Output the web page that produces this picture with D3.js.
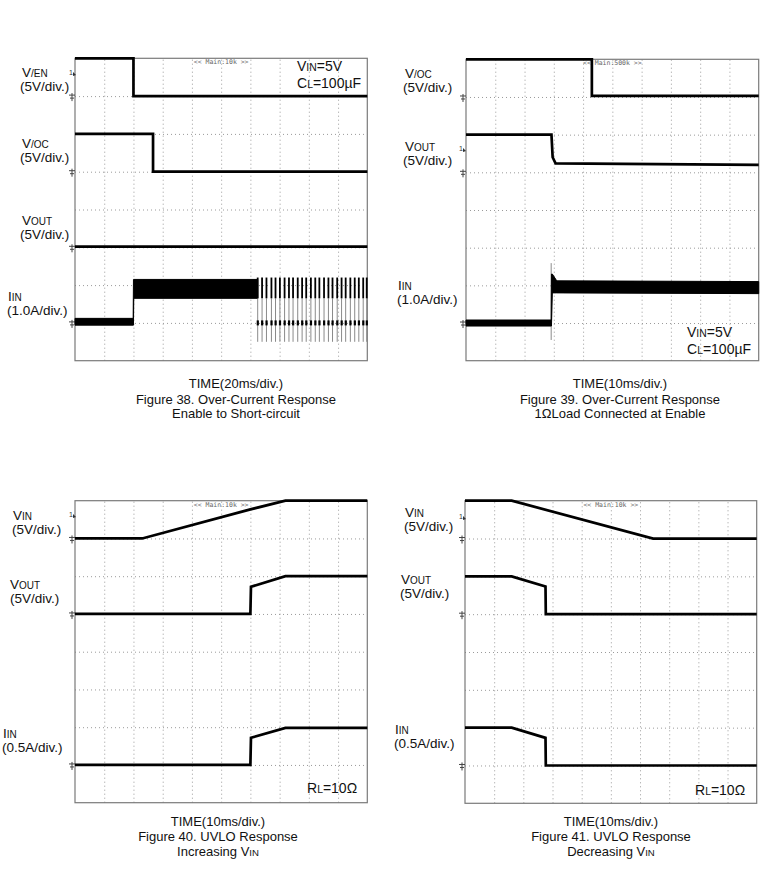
<!DOCTYPE html>
<html>
<head>
<meta charset="utf-8">
<script src="https://cdn.jsdelivr.net/npm/d3@7"></script>
<style>
  body { margin: 0; background: #fff; }
  svg { display: block; font-family: "Liberation Sans", Arial, sans-serif; }
</style>
</head>
<body>
<svg id="chart" width="768" height="891"></svg>
<script>
// all traces are [time (div), level (div from bottom)]; bands are [time, low, high]

// Figure 38
const fig38Ven = [[0, 8], [2, 8], [2, 7], [10, 7]];
const fig38Voc = [[0, 6], [2.67, 6], [2.67, 5], [10, 5]];
const fig38Vout = [[0, 3.02], [10, 3.02]];
const fig38IinBand = [[0, 0.94, 1.12], [1.99, 0.94, 1.12], [2, 0.94, 2.15], [2.01, 1.65, 2.15], [6.25, 1.65, 2.15]];
const fig38Pulses = [6.25, 6.40, 6.55, 6.72, 6.86, 7.01, 7.17, 7.32, 7.46, 7.62, 7.77, 7.91, 8.07,
                     8.22, 8.36, 8.52, 8.67, 8.81, 8.97, 9.12, 9.26, 9.42, 9.57, 9.71, 9.86, 9.98];

// Figure 39
const fig39Voc = [[0, 8], [4.3, 8], [4.3, 7.03], [10, 7.03]];
const fig39Vout = [[0, 6], [2.92, 6], [2.96, 5.4], [3.06, 5.24], [10, 5.2]];
const fig39IinBand = [[0, 0.92, 1.08], [2.91, 0.92, 1.08], [2.92, 0.92, 2.3], [2.95, 1.8, 2.3], [3.1, 1.8, 2.12], [10, 1.78, 2.1]];
const fig39IinSpike = [[2.91, 0.55], [2.91, 2.59]];

// Figure 40
const fig40Vin = [[0, 7], [2.3, 7], [6, 7.77], [7.2, 8], [10, 8]];
const fig40Vout = [[0, 5], [6, 5], [6.02, 5.72], [7.2, 6], [10, 6]];
const fig40Iin = [[0, 1], [6, 1], [6.02, 1.72], [7.2, 1.98], [10, 1.98]];

// Figure 41
const fig41Vin = [[0, 8], [1.6, 8], [6.45, 7], [10, 7]];
const fig41Vout = [[0, 6], [1.6, 6], [2.76, 5.73], [2.77, 5], [10, 5]];
const fig41Iin = [[0, 2], [1.6, 2], [2.76, 1.73], [2.77, 1], [10, 1]];

// "_" prefix marks the small-caps subscript part
const panels = [
  {
    box: [75, 58.3, 367.3, 360.7],
    zoomTag: "<< Main:10k >>",
    traces: [fig38Ven, fig38Voc, fig38Vout],
    bands: [fig38IinBand],
    spikes: [],
    pulses: fig38Pulses,
    grounds: [7, 5, 3, 1],
    triggers: [[69, 73]],
    labels: [
      { x: 22, y: 72.5, parts: ["V", "_/EN"] }, { x: 20, y: 86.5, parts: ["(5V/div.)"] },
      { x: 22, y: 143, parts: ["V", "_/OC"] }, { x: 20, y: 157, parts: ["(5V/div.)"] },
      { x: 22, y: 220, parts: ["V", "_OUT"] }, { x: 20, y: 234, parts: ["(5V/div.)"] },
      { x: 8, y: 296, parts: ["I", "_IN"] }, { x: 7, y: 310, parts: ["(1.0A/div.)"] },
      { x: 297, y: 66.5, parts: ["V", "_IN", "=5V"], size: 14 },
      { x: 297, y: 83.5, parts: ["C", "_L", "=100µF"], size: 14 }
    ],
    caption: { cx: 236, ys: [383.5, 399.5, 413], lines: [["TIME(20ms/div.)"], ["Figure 38. Over-Current Response"], ["Enable to Short-circuit"]] }
  },
  {
    box: [466, 59.3, 758.7, 360.7],
    zoomTag: "<< Main:500k >>",
    traces: [fig39Voc, fig39Vout],
    bands: [fig39IinBand],
    spikes: [fig39IinSpike],
    pulses: [],
    grounds: [7, 5, 1],
    triggers: [[459, 149]],
    labels: [
      { x: 405, y: 73, parts: ["V", "_/OC"] }, { x: 403, y: 87, parts: ["(5V/div.)"] },
      { x: 405, y: 146, parts: ["V", "_OUT"] }, { x: 403, y: 160, parts: ["(5V/div.)"] },
      { x: 398, y: 285, parts: ["I", "_IN"] }, { x: 397, y: 299, parts: ["(1.0A/div.)"] },
      { x: 687, y: 332.5, parts: ["V", "_IN", "=5V"], size: 14 },
      { x: 687, y: 349.5, parts: ["C", "_L", "=100µF"], size: 14 }
    ],
    caption: { cx: 620, ys: [383.5, 399.5, 413], lines: [["TIME(10ms/div.)"], ["Figure 39. Over-Current Response"], ["1ΩLoad Connected at Enable"]] }
  },
  {
    box: [75, 500.7, 367.3, 802.7],
    zoomTag: "<< Main:10k >>",
    traces: [fig40Vin, fig40Vout, fig40Iin],
    bands: [],
    spikes: [],
    pulses: [],
    grounds: [7, 5, 1],
    triggers: [[69, 515]],
    labels: [
      { x: 13, y: 515.5, parts: ["V", "_IN"] }, { x: 12, y: 529.5, parts: ["(5V/div.)"] },
      { x: 10, y: 584, parts: ["V", "_OUT"] }, { x: 10, y: 598, parts: ["(5V/div.)"] },
      { x: 3, y: 733, parts: ["I", "_IN"] }, { x: 2, y: 747, parts: ["(0.5A/div.)"] },
      { x: 307, y: 788.5, parts: ["R", "_L", "=10Ω"], size: 14 }
    ],
    caption: { cx: 218, ys: [821, 836, 851], lines: [["TIME(10ms/div.)"], ["Figure 40. UVLO Response"], ["Increasing V", "_IN"]] }
  },
  {
    box: [465, 500.7, 756.7, 803.3],
    zoomTag: "<< Main:10k >>",
    traces: [fig41Vin, fig41Vout, fig41Iin],
    bands: [],
    spikes: [],
    pulses: [],
    grounds: [7, 5, 1],
    triggers: [[459, 517]],
    labels: [
      { x: 405, y: 512.5, parts: ["V", "_IN"] }, { x: 404, y: 526.5, parts: ["(5V/div.)"] },
      { x: 401, y: 579.5, parts: ["V", "_OUT"] }, { x: 400, y: 593.5, parts: ["(5V/div.)"] },
      { x: 395, y: 729.5, parts: ["I", "_IN"] }, { x: 394, y: 743.5, parts: ["(0.5A/div.)"] },
      { x: 695, y: 790, parts: ["R", "_L", "=10Ω"], size: 14 }
    ],
    caption: { cx: 611, ys: [821, 836, 851], lines: [["TIME(10ms/div.)"], ["Figure 41. UVLO Response"], ["Decreasing V", "_IN"]] }
  }
];

const svg = d3.select("#chart");

function richText(g, x, y, parts, size, anchor) {
  const t = g.append("text")
      .attr("x", x)
      .attr("y", y)
      .attr("dy", "0.35em")
      .attr("font-size", size)
      .attr("text-anchor", anchor || "start")
      .attr("fill", "#111");
  parts.forEach(p => {
    if (p.startsWith("_")) {
      t.append("tspan").attr("font-size", size * 0.74).text(p.slice(1));
    } else {
      t.append("tspan").text(p);
    }
  });
  return t;
}

function drawPanel(p) {
  const [left, top, right, bottom] = p.box;
  const x = d3.scaleLinear().domain([0, 10]).range([left, right]);
  const y = d3.scaleLinear().domain([0, 8]).range([bottom, top]);
  const g = svg.append("g");

  // dotted graticule
  const gx = g.append("g")
      .attr("transform", `translate(0,${bottom})`)
      .call(d3.axisBottom(x).tickValues(d3.range(1, 10)).tickSize(-(bottom - top)).tickFormat(""));
  const gy = g.append("g")
      .attr("transform", `translate(${left},0)`)
      .call(d3.axisLeft(y).tickValues(d3.range(1, 8)).tickSize(-(right - left)).tickFormat(""));
  [gx, gy].forEach(a => {
    a.select(".domain").remove();
    a.selectAll("line")
        .attr("stroke", "#9a9a9a")
        .attr("stroke-width", 1)
        .attr("stroke-dasharray", "1,3");
  });

  g.append("rect")
      .attr("x", left).attr("y", top)
      .attr("width", right - left).attr("height", bottom - top)
      .attr("fill", "none")
      .attr("stroke", "#7a7a7a")
      .attr("stroke-width", 1.2);

  g.append("text")
      .attr("x", (left + right) / 2)
      .attr("y", top + 6)
      .attr("text-anchor", "middle")
      .attr("font-family", "'DejaVu Sans Mono', monospace")
      .attr("font-size", 6.5)
      .attr("fill", "#666")
      .text(p.zoomTag);

  // ground markers
  p.grounds.forEach(d => {
    const gxp = left - 3, gyp = y(d) + 1;
    g.append("path")
        .attr("d", `M${gxp - 3},${gyp - 2}h6M${gxp - 2},${gyp + 1}h4M${gxp},${gyp - 4}v8`)
        .attr("stroke", "#444")
        .attr("stroke-width", 1)
        .attr("fill", "none");
  });

  // trigger level markers
  p.triggers.forEach(([tx, ty]) => {
    g.append("text")
        .attr("x", tx).attr("y", ty)
        .attr("dy", "0.35em")
        .attr("font-size", 7)
        .attr("fill", "#333")
        .text("1");
    g.append("path")
        .attr("d", `M${tx + 4},${ty - 1}l3,3l-3,1z`)
        .attr("fill", "#333");
  });

  const line = d3.line().x(d => x(d[0])).y(d => y(d[1]));
  const area = d3.area().x(d => x(d[0])).y0(d => y(d[1])).y1(d => y(d[2]));

  p.spikes.forEach(s => {
    g.append("path").attr("d", line(s))
        .attr("fill", "none").attr("stroke", "#8a8a8a").attr("stroke-width", 1);
  });

  p.bands.forEach(b => {
    g.append("path").attr("d", area(b))
        .attr("fill", "#000").attr("stroke", "#000").attr("stroke-width", 1);
  });

  p.pulses.forEach(t => {
    g.append("line")
        .attr("x1", x(t)).attr("x2", x(t))
        .attr("y1", y(1.65)).attr("y2", y(0.5))
        .attr("stroke", "#8a8a8a").attr("stroke-width", 1);
    g.append("line")
        .attr("x1", x(t)).attr("x2", x(t))
        .attr("y1", y(2.2)).attr("y2", y(1.65))
        .attr("stroke", "#000").attr("stroke-width", 1.8);
    g.append("rect")
        .attr("x", x(t) - 1).attr("y", y(1) - 2.5)
        .attr("width", 2.2).attr("height", 5)
        .attr("fill", "#000");
  });

  p.traces.forEach(tr => {
    g.append("path").attr("d", line(tr))
        .attr("fill", "none")
        .attr("stroke", "#000")
        .attr("stroke-width", 2.7)
        .attr("stroke-linejoin", "miter");
  });

  p.labels.forEach(l => richText(g, l.x, l.y, l.parts, l.size || 13.5));

  p.caption.lines.forEach((ln, i) => richText(g, p.caption.cx, p.caption.ys[i], ln, 13, "middle"));
}

panels.forEach(drawPanel);
</script>
</body>
</html>
